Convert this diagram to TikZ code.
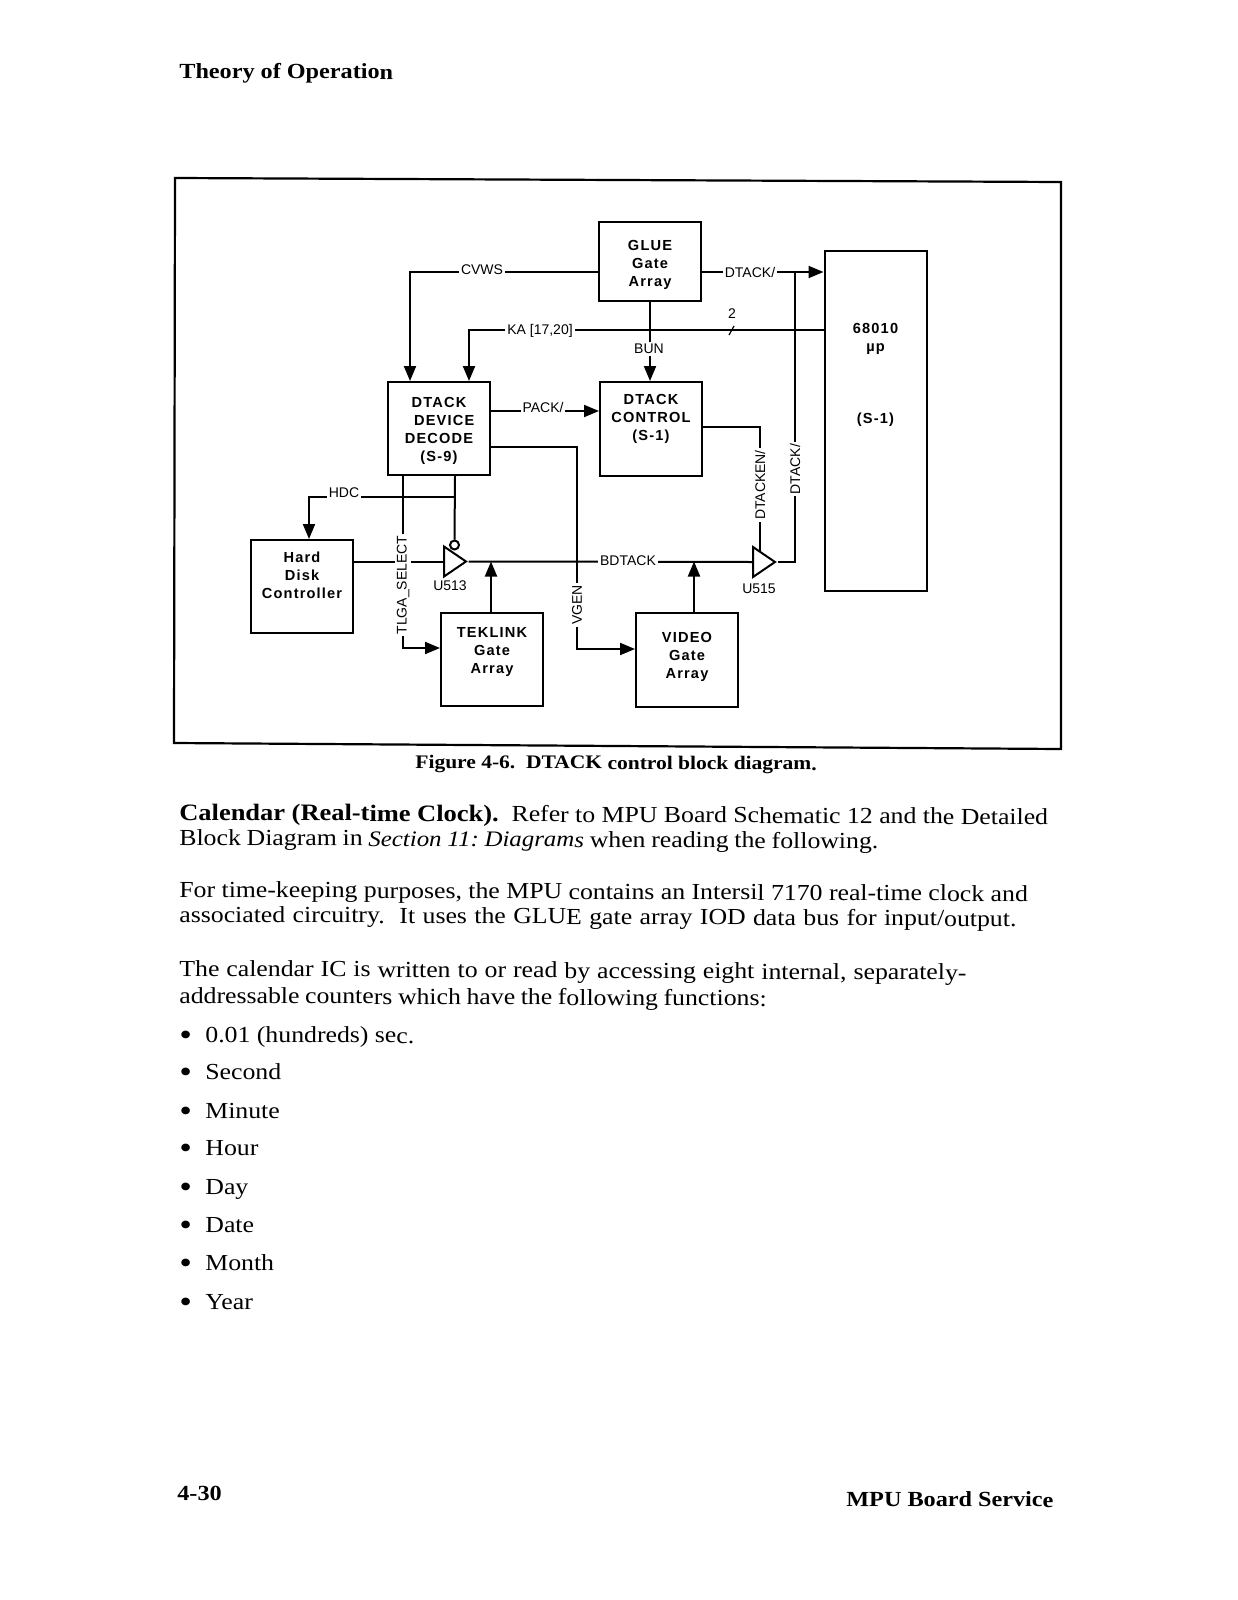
\documentclass[tikz,border=0pt]{standalone}
\usepackage{fontspec}
\usetikzlibrary{arrows.meta,shapes.geometric}
\setmainfont[FakeStretch=1.12]{Liberation Serif}
\newfontfamily\blockfont[LetterSpace=8]{Liberation Sans}
\newfontfamily\wirefont{Liberation Sans}
\frenchspacing
\tikzset{
    blockbox/.style={draw, line width=1pt, fill=white, minimum width=51pt, align=center, inner sep=0pt,
        font=\blockfont\fontsize{7.3}{9}\selectfont\bfseries},
    sig/.style={line width=1pt, -{Triangle[length=7.5pt,width=6pt]}},
    wire/.style={line width=1pt},
    siglabel/.style={fill=white, inner sep=1pt, font=\wirefont\fontsize{7}{8}\selectfont},
    bufgate/.style={draw, line width=1pt, fill=white, isosceles triangle, isosceles triangle stretches,
        minimum width=15pt, minimum height=11pt, inner sep=0pt, anchor=west},
    pagetext/.style={anchor=base west, inner sep=0pt, rotate=-0.3, font=\fontsize{11.5}{13}\selectfont},
    pagebold/.style={pagetext, font=\fontsize{10.8}{13}\selectfont\bfseries}
}
\begin{document}
\begin{tikzpicture}[x=0.5pt, y=-0.5pt]
    \fill[white] (0,0) rectangle (1237,1600);
    \useasboundingbox (0,0) rectangle (1237,1600);

    % Page head and figure frame
    \node[pagebold] (head) at (179,78) {Theory of Operation};
    \draw[line width=1.1pt] (175,178) -- (1061,182) -- (1061,749) -- (174,743) -- cycle;

    % Blocks
    \node[blockbox, minimum height=39.5pt] (glue) at (650,261.5) {\rule{0pt}{9pt}GLUE\\Gate\\Array};
    \node[blockbox, minimum height=46.5pt] (decode) at (439,428.5) {\rule{0pt}{8pt}DTACK\\\ \ DEVICE\\DECODE\\(S-9)};
    \node[blockbox, minimum height=47pt] (control) at (651,429) {DTACK\\CONTROL\\(S-1)\\[3pt]~};
    \node[blockbox, minimum height=46.5pt] (disk) at (302,586.5) {Hard\\Disk\\Controller\\[2.5pt]~};
    \node[blockbox, minimum height=46.5pt] (teklink) at (492,659.5) {TEKLINK\\Gate\\Array\\[0.5pt]~};
    \node[blockbox, minimum height=47pt] (video) at (687,660) {VIDEO\\Gate\\Array\\[-4pt]~};
    \node[blockbox, minimum height=170pt] (cpu) at (875.5,421) {68010\\µp\\[27pt](S-1)\\[39pt]~};

    % Turning points of the wires
    \coordinate (cvwsturn) at (410,272);
    \coordinate (katurn) at (469,330);
    \coordinate (hdcjoin) at (455,497);
    \coordinate (hdcturn) at (309,497);
    \coordinate (tlgastart) at (403,475);
    \coordinate (tlgaturn) at (403,648);
    \coordinate (packy) at (0,411);
    \coordinate (vgenstart) at (490,447);
    \coordinate (vgenturn) at (577,447);
    \coordinate (vgenlow) at (577,649);
    \coordinate (dtackjoin) at (795,272);
    \coordinate (dtackturn) at (795,562);
    \coordinate (enstart) at (702,427);
    \coordinate (enturn) at (760,427);
    \coordinate (enend) at (760,552);
    \coordinate (busjoin1) at (491,561.5);
    \coordinate (busjoin2) at (694,561.5);
    \coordinate (bunx) at (650,0);

    % Buffers
    \node[bufgate] (u513) at (443,561.5) {};
    \node[bufgate] (u515) at (752,562) {};
    \node[draw, circle, line width=1pt, fill=white, minimum size=4.5pt, inner sep=0pt] (u513en) at (454.5,545) {};

    % Wires
    \draw[sig] (glue.west |- cvwsturn) -- (cvwsturn) -- (cvwsturn |- decode.north);
    \draw[sig] (cpu.west |- katurn) -- (katurn) -- (katurn |- decode.north);
    \draw[sig] (bunx |- glue.south) -- (bunx |- control.north);
    \draw[sig] (glue.east |- dtackjoin) -- (cpu.west |- dtackjoin);
    \draw[wire] (dtackjoin) -- (dtackturn) -- (u515.apex);
    \draw[sig] (decode.east |- packy) -- (control.west |- packy);
    \draw[sig] (vgenstart) -- (vgenturn) -- (vgenlow) -- (video.west |- vgenlow);
    \draw[wire] (enstart) -- (enturn) -- (enend);
    \draw[wire] (hdcjoin |- decode.south) -- (u513en.north);
    \draw[sig] (hdcjoin) -- (hdcturn) -- (hdcturn |- disk.north);
    \draw[sig] (tlgastart) -- (tlgaturn) -- (teklink.west |- tlgaturn);
    \draw[wire] (disk.east |- u513.west) -- (u513.west);
    \draw[wire] (u513.apex) -- (u515.west);
    \draw[sig] (busjoin1 |- teklink.north) -- (busjoin1);
    \draw[sig] (busjoin2 |- video.north) -- (busjoin2);
    \draw[line width=0.6pt] (729,335) -- (734,326);

    % Wire labels
    \node[siglabel] (cvws) at (482,269.5) {CVWS};
    \node[siglabel] (ka) at (540,331) {KA [17,20]};
    \node[siglabel] (bun) at (649,349) {BUN};
    \node[siglabel] (dtack) at (750,272) {DTACK/};
    \node[siglabel, fill=none] (two) at (732,314) {2};
    \node[siglabel] (pack) at (543,407) {PACK/};
    \node[siglabel] (hdc) at (344,493) {HDC};
    \node[siglabel, rotate=90] (tlga) at (403,585) {TLGA\_SELECT};
    \node[siglabel, rotate=90] (vgen) at (577,605) {VGEN};
    \node[siglabel] (bdtack) at (628,561) {BDTACK};
    \node[siglabel, rotate=90] (dtacken) at (760,485) {DTACKEN/};
    \node[siglabel, rotate=90] (dtackup) at (795,469) {DTACK/};
    \node[siglabel, fill=none] (u513name) at (450,586) {U513};
    \node[siglabel, fill=none] (u515name) at (759,589) {U515};

    % Page text
    \node[pagebold, font=\fontsize{9.6}{11}\selectfont\bfseries] (caption) at (415,768) {Figure 4-6.\ \ DTACK control block diagram.};
    \node[pagetext] (line1) at (179,820) {{\fontsize{11.8}{14}\selectfont\bfseries Calendar (Real-time Clock).}\ \ Refer to MPU Board Schematic 12 and the Detailed};
    \node[pagetext] (line2) at (179,845) {\spaceskip=2.9pt Block Diagram in {\fontsize{11.1}{13}\selectfont\itshape Section 11: Diagrams} when reading the following.};
    \node[pagetext] (line3) at (179,897) {For time-keeping purposes, the MPU contains an Intersil 7170 real-time clock and};
    \node[pagetext] (line4) at (179,922) {\spaceskip=3.7pt associated circuitry.\ \ It uses the GLUE gate array IOD data bus for input/output.};
    \node[pagetext] (line5) at (179,976) {\spaceskip=3.5pt The calendar IC is written to or read by accessing eight internal, separately-};
    \node[pagetext] (line6) at (179,1003) {\spaceskip=2.8pt addressable counters which have the following functions:};
    \foreach \y/\word in {1042/0.01 (hundreds) sec., 1079.5/Second, 1118/Minute, 1155.5/Hour, 1194.5/Day, 1232.5/Date, 1270.5/Month, 1309/Year} {
        \node[pagetext] (bullet\y) at (179,\y) {\raisebox{-1.7pt}{\fontsize{16}{16}\selectfont\textbullet}};
        \node[pagetext] (item\y) at (205,\y) {\word};
    }
    \node[pagebold] (pagenum) at (177,1500) {4-30};
    \node[pagebold] (foot) at (846,1506) {MPU Board Service};
\end{tikzpicture}
\end{document}
